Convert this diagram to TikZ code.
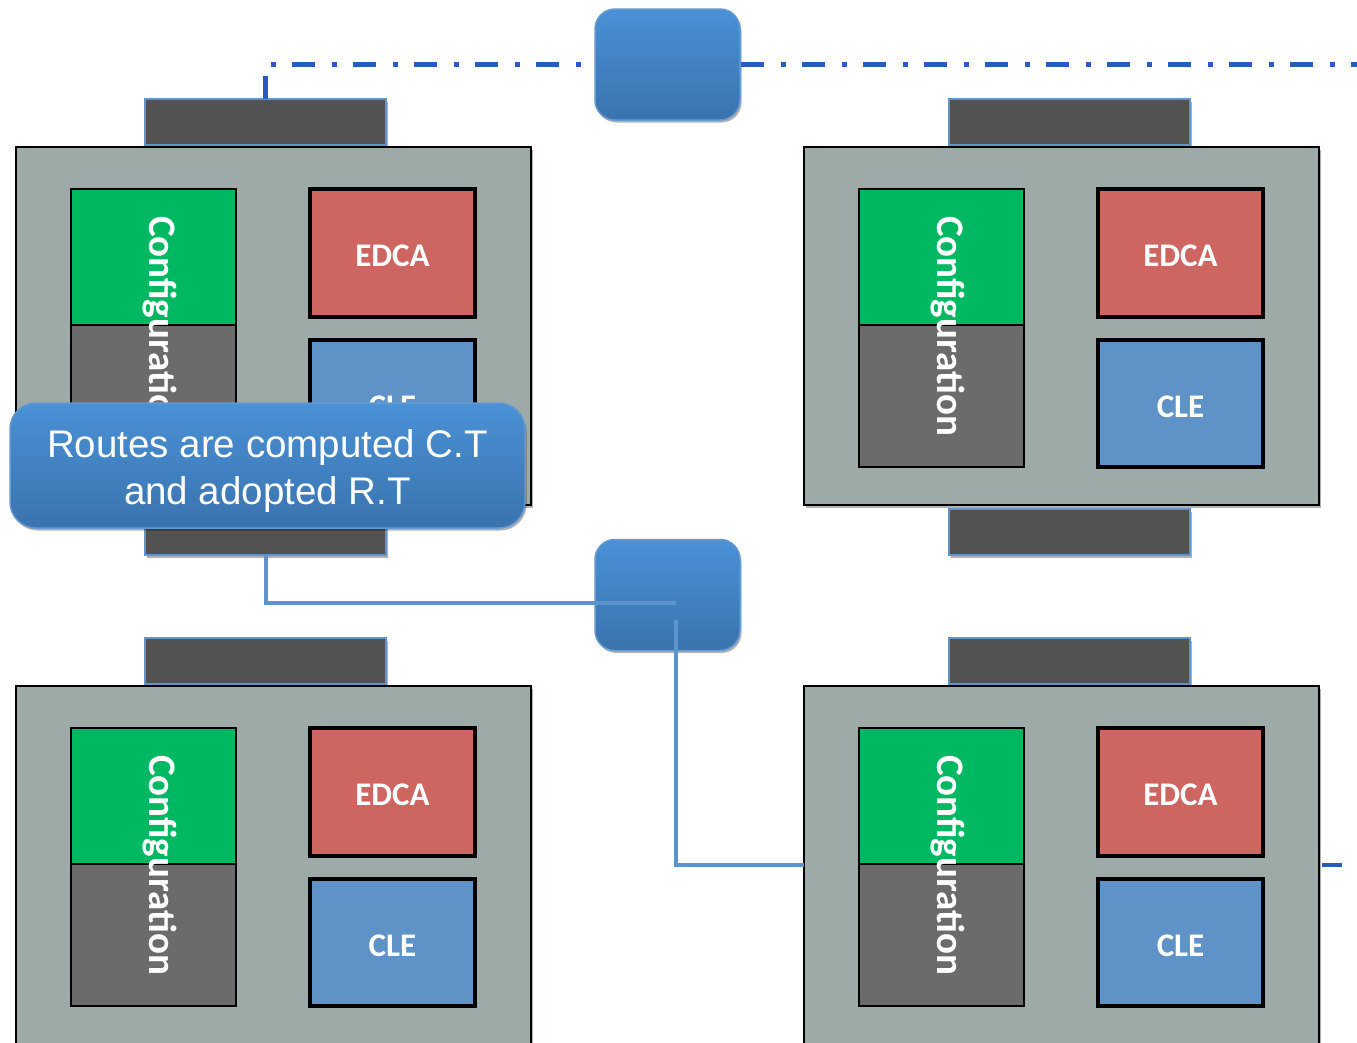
\documentclass[tikz,border=0pt]{standalone}
\usepackage{fontspec}
\setmainfont{Liberation Sans}
\newfontfamily\boxfont{Carlito}
\usetikzlibrary{shadows}

\definecolor{panelgray}{RGB}{158,170,168}
\definecolor{bargray}{RGB}{82,82,82}
\definecolor{barblue}{RGB}{96,148,204}
\definecolor{cfggreen}{RGB}{0,184,98}
\definecolor{cfggray}{RGB}{107,107,107}
\definecolor{edcared}{RGB}{205,102,96}
\definecolor{cleblue}{RGB}{95,147,200}
\definecolor{linkblue}{RGB}{94,148,204}
\definecolor{busblue}{RGB}{42,92,191}
\definecolor{routertop}{RGB}{74,145,214}
\definecolor{routerbot}{RGB}{58,115,174}
\definecolor{routeredge}{RGB}{100,152,208}

\tikzset{
  softshadow/.style={drop shadow={shadow xshift=1.5pt, shadow yshift=-2.5pt, opacity=.3, fill=black}},
  panel/.style={draw=black, line width=1.5pt, fill=panelgray, minimum width=515pt,
    minimum height=358pt, inner sep=0pt, outer sep=0pt, anchor=north west, softshadow},
  bar/.style={draw=barblue, line width=2pt, fill=bargray, minimum width=241pt,
    minimum height=46pt, inner sep=0pt, outer sep=0pt, softshadow},
  cfgtop/.style={draw=black, line width=2.5pt, fill=cfggreen, minimum width=165pt,
    minimum height=136pt, inner sep=0pt, outer sep=0pt},
  cfgbot/.style={draw=black, line width=2.5pt, fill=cfggray, minimum width=165pt,
    minimum height=142pt, inner sep=0pt, outer sep=0pt},
  cfgtext/.style={text=white, font=\boxfont\bfseries\fontsize{39}{44}\selectfont,
    inner sep=0pt, rotate=-90},
  func/.style={draw=black, line width=4pt, minimum width=165pt, inner sep=0pt,
    outer sep=0pt, anchor=north west, text=white, text height=27pt, text depth=0pt,
    font=\boxfont\bfseries\fontsize{33}{38}\selectfont},
  edca/.style={func, fill=edcared, minimum height=128pt},
  cle/.style={func, fill=cleblue, minimum height=127pt},
  router/.style={draw=routeredge, line width=1.5pt, top color=routertop,
    bottom color=routerbot, rounded corners=20pt, minimum width=145pt,
    minimum height=111pt, inner sep=0pt, softshadow},
  callout/.style={draw=routeredge, line width=1.5pt, top color=routertop,
    bottom color=routerbot, rounded corners=26pt, minimum width=515pt,
    minimum height=125pt, inner sep=0pt, softshadow},
  callouttext/.style={text=white, align=center, inner sep=0pt,
    font=\fontsize{38.5}{47}\selectfont},
  bus/.style={draw=busblue, line width=5pt, dash pattern=on 23pt off 17pt on 5pt off 16pt},
  link/.style={draw=linkblue, line width=4pt},
}

% one station: grey panel at (#2,#3), dark top bar starting at x=#4,
% configuration column, EDCA and CLE
\newcommand{\stationunit}[4]{%
  \node[panel] (#1panel) at (#2,#3) {};
  \node[bar, anchor=south west] (#1bar) at (#4,#3-2) {};
  \node[cfgtop, anchor=north west] (#1cfgA) at (#2+55,#3+42) {};
  \node[cfgbot, anchor=north] (#1cfgB) at (#1cfgA.south) {};
  \node[cfgtext] (#1cfgT) at (#2+144,#3+179) {Configuration};
  \node[edca] (#1edca) at (#2+294,#3+42) {EDCA};
  \node[cle] (#1cle) at (#2+294,#3+193) {CLE};
}

\begin{document}
\begin{tikzpicture}[x=1pt,y=-1pt]
  \path[use as bounding box] (0,0) rectangle (1357,1042);
  \clip (0,0) rectangle (1357,1042);

  % routers
  \node[router] (rtop) at (667.5,64.5) {};
  \node[router] (rmid) at (667.5,595) {};

  % stations
  \stationunit{tl}{16}{147}{145}
  \stationunit{tr}{804}{147}{949}
  \stationunit{bl}{16}{686}{145}
  \stationunit{br}{804}{686}{949}

  % lower bars of the upper stations
  \node[bar, anchor=north west] (tlbot) at (145,509) {};
  \node[bar, anchor=north west] (trbot) at (949,509) {};

  % dash-dot bus through the upper router
  \coordinate (busend) at (1357,64.5);
  \draw[bus] (tlbar.north) |- (rtop.west);
  \draw[bus] (rtop.east) -- (busend);

  % links through the middle router
  \coordinate (jA) at (676,603);
  \coordinate (jB) at (676,620);
  \draw[link] (tlbot.south) |- (jA);
  \draw[link] (brpanel.west) -| (jB);

  % short bus stub right of the lower-right station
  \coordinate (stubA) at (1322,864.5);
  \coordinate (stubB) at (1342,864.5);
  \draw[draw=busblue, line width=4pt] (stubA) -- (stubB);

  % callout
  \node[callout] (note) at (267.5,465.5) {};
  \node[callouttext] (notetext) at ([yshift=-6pt]note.center) {Routes are computed C.T\\and adopted R.T};
\end{tikzpicture}
\end{document}
